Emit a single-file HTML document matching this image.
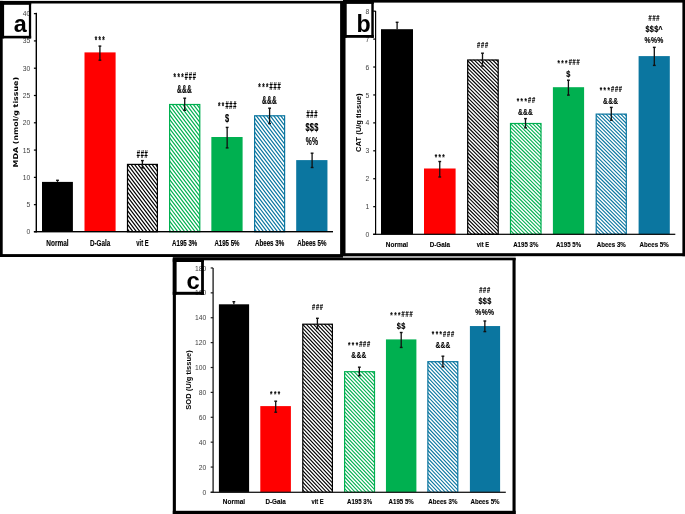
<!DOCTYPE html>
<html lang="en"><head><meta charset="utf-8"><title>Figure: MDA, CAT and SOD levels</title>
<style>html,body{margin:0;padding:0;background:#fff}svg{display:block}text{white-space:pre}</style></head><body>
<svg width="685" height="514" viewBox="0 0 685 514">
<rect x="0.00" y="0.00" width="685.00" height="514.00" fill="#fff"/>
<rect x="42.00" y="181.90" width="30.90" height="49.80" fill="#000"/>
<rect x="84.50" y="52.40" width="31.10" height="179.30" fill="#FF0000"/>
<clipPath id="cp1"><rect x="127.30" y="164.20" width="30.30" height="67.50"/></clipPath>
<rect x="126.90" y="163.80" width="31.10" height="67.90" fill="#fff"/>
<path d="M70.28 162.80L123.24 232.70M73.78 162.80L126.74 232.70M77.28 162.80L130.24 232.70M80.78 162.80L133.74 232.70M84.28 162.80L137.24 232.70M87.78 162.80L140.74 232.70M91.28 162.80L144.24 232.70M94.78 162.80L147.74 232.70M98.28 162.80L151.24 232.70M101.78 162.80L154.74 232.70M105.28 162.80L158.24 232.70M108.78 162.80L161.74 232.70M112.28 162.80L165.24 232.70M115.78 162.80L168.74 232.70M119.28 162.80L172.24 232.70M122.78 162.80L175.74 232.70M126.28 162.80L179.24 232.70M129.78 162.80L182.74 232.70M133.28 162.80L186.24 232.70M136.78 162.80L189.74 232.70M140.28 162.80L193.24 232.70M143.78 162.80L196.74 232.70M147.28 162.80L200.24 232.70M150.78 162.80L203.74 232.70M154.28 162.80L207.24 232.70M157.78 162.80L210.74 232.70" stroke="#000" stroke-width="1.2" fill="none" clip-path="url(#cp1)"/>
<rect x="127.50" y="164.40" width="29.90" height="67.30" fill="none" stroke="#000" stroke-width="1.2"/>
<clipPath id="cp2"><rect x="169.40" y="104.30" width="30.60" height="127.40"/></clipPath>
<rect x="169.00" y="103.90" width="31.40" height="127.80" fill="#fff"/>
<path d="M66.10 102.90L164.44 232.70M69.60 102.90L167.94 232.70M73.10 102.90L171.44 232.70M76.60 102.90L174.94 232.70M80.10 102.90L178.44 232.70M83.60 102.90L181.94 232.70M87.10 102.90L185.44 232.70M90.60 102.90L188.94 232.70M94.10 102.90L192.44 232.70M97.60 102.90L195.94 232.70M101.10 102.90L199.44 232.70M104.60 102.90L202.94 232.70M108.10 102.90L206.44 232.70M111.60 102.90L209.94 232.70M115.10 102.90L213.44 232.70M118.60 102.90L216.94 232.70M122.10 102.90L220.44 232.70M125.60 102.90L223.94 232.70M129.10 102.90L227.44 232.70M132.60 102.90L230.94 232.70M136.10 102.90L234.44 232.70M139.60 102.90L237.94 232.70M143.10 102.90L241.44 232.70M146.60 102.90L244.94 232.70M150.10 102.90L248.44 232.70M153.60 102.90L251.94 232.70M157.10 102.90L255.44 232.70M160.60 102.90L258.94 232.70M164.10 102.90L262.44 232.70M167.60 102.90L265.94 232.70M171.10 102.90L269.44 232.70M174.60 102.90L272.94 232.70M178.10 102.90L276.44 232.70M181.60 102.90L279.94 232.70M185.10 102.90L283.44 232.70M188.60 102.90L286.94 232.70M192.10 102.90L290.44 232.70M195.60 102.90L293.94 232.70M199.10 102.90L297.44 232.70" stroke="#00B050" stroke-width="1.2" fill="none" clip-path="url(#cp2)"/>
<rect x="169.60" y="104.50" width="30.20" height="127.20" fill="none" stroke="#00B050" stroke-width="1.2"/>
<rect x="211.35" y="137.00" width="31.25" height="94.70" fill="#00B050"/>
<clipPath id="cp3"><rect x="254.40" y="115.60" width="30.40" height="116.10"/></clipPath>
<rect x="254.00" y="115.20" width="31.20" height="116.50" fill="#fff"/>
<path d="M160.53 114.20L250.30 232.70M164.03 114.20L253.80 232.70M167.53 114.20L257.30 232.70M171.03 114.20L260.80 232.70M174.53 114.20L264.30 232.70M178.03 114.20L267.80 232.70M181.53 114.20L271.30 232.70M185.03 114.20L274.80 232.70M188.53 114.20L278.30 232.70M192.03 114.20L281.80 232.70M195.53 114.20L285.30 232.70M199.03 114.20L288.80 232.70M202.53 114.20L292.30 232.70M206.03 114.20L295.80 232.70M209.53 114.20L299.30 232.70M213.03 114.20L302.80 232.70M216.53 114.20L306.30 232.70M220.03 114.20L309.80 232.70M223.53 114.20L313.30 232.70M227.03 114.20L316.80 232.70M230.53 114.20L320.30 232.70M234.03 114.20L323.80 232.70M237.53 114.20L327.30 232.70M241.03 114.20L330.80 232.70M244.53 114.20L334.30 232.70M248.03 114.20L337.80 232.70M251.53 114.20L341.30 232.70M255.03 114.20L344.80 232.70M258.53 114.20L348.30 232.70M262.03 114.20L351.80 232.70M265.53 114.20L355.30 232.70M269.03 114.20L358.80 232.70M272.53 114.20L362.30 232.70M276.03 114.20L365.80 232.70M279.53 114.20L369.30 232.70M283.03 114.20L372.80 232.70M286.53 114.20L376.30 232.70" stroke="#0B76A0" stroke-width="1.2" fill="none" clip-path="url(#cp3)"/>
<rect x="254.60" y="115.80" width="30.00" height="115.90" fill="none" stroke="#0B76A0" stroke-width="1.2"/>
<rect x="296.20" y="160.10" width="31.25" height="71.60" fill="#0B76A0"/>
<rect x="35.60" y="12.80" width="1.40" height="219.60" fill="#000"/>
<rect x="33.90" y="231.00" width="299.10" height="1.40" fill="#000"/>
<rect x="33.90" y="231.10" width="2.40" height="1.20" fill="#000"/>
<text transform="translate(30.20,234.25) scale(0.93,1.08)" font-family='"Liberation Sans", sans-serif' font-size="7.3" fill="#404040" text-anchor="end">0</text>
<rect x="33.90" y="204.06" width="2.40" height="1.20" fill="#000"/>
<text transform="translate(30.20,207.21) scale(0.93,1.08)" font-family='"Liberation Sans", sans-serif' font-size="7.3" fill="#404040" text-anchor="end">5</text>
<rect x="33.90" y="176.77" width="2.40" height="1.20" fill="#000"/>
<text transform="translate(30.20,179.92) scale(0.93,1.08)" font-family='"Liberation Sans", sans-serif' font-size="7.3" fill="#404040" text-anchor="end">10</text>
<rect x="33.90" y="149.48" width="2.40" height="1.20" fill="#000"/>
<text transform="translate(30.20,152.63) scale(0.93,1.08)" font-family='"Liberation Sans", sans-serif' font-size="7.3" fill="#404040" text-anchor="end">15</text>
<rect x="33.90" y="122.19" width="2.40" height="1.20" fill="#000"/>
<text transform="translate(30.20,125.34) scale(0.93,1.08)" font-family='"Liberation Sans", sans-serif' font-size="7.3" fill="#404040" text-anchor="end">20</text>
<rect x="33.90" y="94.90" width="2.40" height="1.20" fill="#000"/>
<text transform="translate(30.20,98.05) scale(0.93,1.08)" font-family='"Liberation Sans", sans-serif' font-size="7.3" fill="#404040" text-anchor="end">25</text>
<rect x="33.90" y="67.61" width="2.40" height="1.20" fill="#000"/>
<text transform="translate(30.20,70.76) scale(0.93,1.08)" font-family='"Liberation Sans", sans-serif' font-size="7.3" fill="#404040" text-anchor="end">30</text>
<rect x="33.90" y="40.32" width="2.40" height="1.20" fill="#000"/>
<text transform="translate(30.20,43.47) scale(0.93,1.08)" font-family='"Liberation Sans", sans-serif' font-size="7.3" fill="#404040" text-anchor="end">35</text>
<rect x="33.90" y="13.03" width="2.40" height="1.20" fill="#000"/>
<text transform="translate(30.20,16.18) scale(0.93,1.08)" font-family='"Liberation Sans", sans-serif' font-size="7.3" fill="#404040" text-anchor="end">40</text>
<rect x="56.85" y="180.30" width="1.30" height="1.60" fill="#111"/>
<rect x="56.10" y="179.60" width="2.80" height="1.40" fill="#111"/>
<text transform="translate(57.45,246.30) scale(0.9807,1.2727)" font-family='"Liberation Sans", sans-serif' font-size="6.6" font-weight="bold" fill="#000" text-anchor="middle" stroke="#000" stroke-width="0.1">Normal</text>
<rect x="99.25" y="46.10" width="1.30" height="14.10" fill="#111"/>
<rect x="98.50" y="45.40" width="2.80" height="1.40" fill="#111"/>
<rect x="98.50" y="59.50" width="2.80" height="1.40" fill="#111"/>
<text transform="translate(99.70,43.10) scale(0.7550,1.3333)" font-family='"Liberation Sans", sans-serif' font-weight="bold" fill="#000" stroke="#000" stroke-width="0.12"><tspan x="-6.70 -1.60 3.49" y="0.75" font-size="8.25">***</tspan></text>
<text transform="translate(100.05,246.30) scale(0.9590,1.2727)" font-family='"Liberation Sans", sans-serif' font-size="6.6" font-weight="bold" fill="#000" text-anchor="middle" stroke="#000" stroke-width="0.1">D-Gala</text>
<rect x="141.75" y="160.60" width="1.30" height="7.40" fill="#111"/>
<rect x="141.00" y="159.90" width="2.80" height="1.40" fill="#111"/>
<rect x="141.00" y="167.30" width="2.80" height="1.40" fill="#111"/>
<text transform="translate(142.20,158.40) scale(0.7552,1.3333)" font-family='"Liberation Sans", sans-serif' font-weight="bold" fill="#000" stroke="#000" stroke-width="0.12"><tspan x="-7.32 -2.09 3.14" y="0.00" font-size="7.5">###</tspan></text>
<text transform="translate(142.45,246.30) scale(0.8825,1.2727)" font-family='"Liberation Sans", sans-serif' font-size="6.6" font-weight="bold" fill="#000" text-anchor="middle" stroke="#000" stroke-width="0.1">vit E</text>
<rect x="184.05" y="98.20" width="1.30" height="12.10" fill="#111"/>
<rect x="183.30" y="97.50" width="2.80" height="1.40" fill="#111"/>
<rect x="183.30" y="109.60" width="2.80" height="1.40" fill="#111"/>
<text transform="translate(184.55,80.00) scale(0.7552,1.3333)" font-family='"Liberation Sans", sans-serif' font-weight="bold" fill="#000" stroke="#000" stroke-width="0.12"><tspan x="-14.55 -9.45 -4.35" y="0.75" font-size="8.25">***</tspan><tspan x="0.33 5.56 10.79" y="0.00" font-size="7.5">###</tspan></text>
<text transform="translate(184.45,93.40) scale(0.8770,1.3333)" font-family='"Liberation Sans", sans-serif' font-weight="bold" fill="#000" stroke="#000" stroke-width="0.12"><tspan x="-8.47 -2.71 3.05" y="0.00" font-size="7.5">&amp;&amp;&amp;</tspan></text>
<text transform="translate(184.70,246.30) scale(0.9281,1.2727)" font-family='"Liberation Sans", sans-serif' font-size="6.6" font-weight="bold" fill="#000" text-anchor="middle" stroke="#000" stroke-width="0.1">A195 3%</text>
<rect x="226.50" y="127.40" width="1.30" height="20.50" fill="#111"/>
<rect x="225.75" y="126.70" width="2.80" height="1.40" fill="#111"/>
<rect x="225.75" y="147.20" width="2.80" height="1.40" fill="#111"/>
<text transform="translate(227.05,109.20) scale(0.7552,1.3333)" font-family='"Liberation Sans", sans-serif' font-weight="bold" fill="#000" stroke="#000" stroke-width="0.12"><tspan x="-12.00 -6.90" y="0.75" font-size="8.25">**</tspan><tspan x="-2.22 3.01 8.24" y="0.00" font-size="7.5">###</tspan></text>
<text transform="translate(227.10,122.20) scale(0.9829,1.3333)" font-family='"Liberation Sans", sans-serif' font-weight="bold" fill="#000" stroke="#000" stroke-width="0.12"><tspan x="-2.09" y="0.00" font-size="7.5">$</tspan></text>
<text transform="translate(226.97,246.30) scale(0.9281,1.2727)" font-family='"Liberation Sans", sans-serif' font-size="6.6" font-weight="bold" fill="#000" text-anchor="middle" stroke="#000" stroke-width="0.1">A195 5%</text>
<rect x="268.95" y="108.20" width="1.30" height="15.40" fill="#111"/>
<rect x="268.20" y="107.50" width="2.80" height="1.40" fill="#111"/>
<rect x="268.20" y="122.90" width="2.80" height="1.40" fill="#111"/>
<text transform="translate(269.30,90.10) scale(0.7552,1.3333)" font-family='"Liberation Sans", sans-serif' font-weight="bold" fill="#000" stroke="#000" stroke-width="0.12"><tspan x="-14.55 -9.45 -4.35" y="0.75" font-size="8.25">***</tspan><tspan x="0.33 5.56 10.79" y="0.00" font-size="7.5">###</tspan></text>
<text transform="translate(269.30,103.60) scale(0.8770,1.3333)" font-family='"Liberation Sans", sans-serif' font-weight="bold" fill="#000" stroke="#000" stroke-width="0.12"><tspan x="-8.47 -2.71 3.05" y="0.00" font-size="7.5">&amp;&amp;&amp;</tspan></text>
<text transform="translate(269.60,246.30) scale(0.9364,1.2727)" font-family='"Liberation Sans", sans-serif' font-size="6.6" font-weight="bold" fill="#000" text-anchor="middle" stroke="#000" stroke-width="0.1">Abees 3%</text>
<rect x="311.45" y="153.20" width="1.30" height="14.30" fill="#111"/>
<rect x="310.70" y="152.50" width="2.80" height="1.40" fill="#111"/>
<rect x="310.70" y="166.80" width="2.80" height="1.40" fill="#111"/>
<text transform="translate(311.90,118.40) scale(0.7552,1.3333)" font-family='"Liberation Sans", sans-serif' font-weight="bold" fill="#000" stroke="#000" stroke-width="0.12"><tspan x="-7.32 -2.09 3.14" y="0.00" font-size="7.5">###</tspan></text>
<text transform="translate(311.90,131.40) scale(0.9829,1.3333)" font-family='"Liberation Sans", sans-serif' font-weight="bold" fill="#000" stroke="#000" stroke-width="0.12"><tspan x="-6.56 -2.09 2.39" y="0.00" font-size="7.5">$$$</tspan></text>
<text transform="translate(311.90,144.90) scale(0.9072,1.3333)" font-family='"Liberation Sans", sans-serif' font-weight="bold" fill="#000" stroke="#000" stroke-width="0.12"><tspan x="-6.83 0.17" y="0.00" font-size="7.5">%%</tspan></text>
<text transform="translate(311.82,246.30) scale(0.9364,1.2727)" font-family='"Liberation Sans", sans-serif' font-size="6.6" font-weight="bold" fill="#000" text-anchor="middle" stroke="#000" stroke-width="0.1">Abees 5%</text>
<text transform="translate(18.00,122.20) rotate(-90)" font-family='"DejaVu Sans", "Liberation Sans", sans-serif' font-size="6.7" font-weight="bold" fill="#000" text-anchor="middle" textLength="90.50" lengthAdjust="spacingAndGlyphs">MDA (nmol/g tissue)</text>
<rect x="381.00" y="29.20" width="32.00" height="205.10" fill="#000"/>
<rect x="424.00" y="168.50" width="31.60" height="65.80" fill="#FF0000"/>
<clipPath id="cp4"><rect x="467.50" y="59.80" width="30.90" height="174.50"/></clipPath>
<rect x="467.10" y="59.40" width="31.70" height="174.90" fill="#fff"/>
<path d="M284.92 58.40L461.82 235.30M288.60 58.40L465.50 235.30M292.28 58.40L469.18 235.30M295.96 58.40L472.86 235.30M299.64 58.40L476.54 235.30M303.32 58.40L480.22 235.30M307.00 58.40L483.90 235.30M310.68 58.40L487.58 235.30M314.36 58.40L491.26 235.30M318.04 58.40L494.94 235.30M321.72 58.40L498.62 235.30M325.40 58.40L502.30 235.30M329.08 58.40L505.98 235.30M332.76 58.40L509.66 235.30M336.44 58.40L513.34 235.30M340.12 58.40L517.02 235.30M343.80 58.40L520.70 235.30M347.48 58.40L524.38 235.30M351.16 58.40L528.06 235.30M354.84 58.40L531.74 235.30M358.52 58.40L535.42 235.30M362.20 58.40L539.10 235.30M365.88 58.40L542.78 235.30M369.56 58.40L546.46 235.30M373.24 58.40L550.14 235.30M376.92 58.40L553.82 235.30M380.60 58.40L557.50 235.30M384.28 58.40L561.18 235.30M387.96 58.40L564.86 235.30M391.64 58.40L568.54 235.30M395.32 58.40L572.22 235.30M399.00 58.40L575.90 235.30M402.68 58.40L579.58 235.30M406.36 58.40L583.26 235.30M410.04 58.40L586.94 235.30M413.72 58.40L590.62 235.30M417.40 58.40L594.30 235.30M421.08 58.40L597.98 235.30M424.76 58.40L601.66 235.30M428.44 58.40L605.34 235.30M432.12 58.40L609.02 235.30M435.80 58.40L612.70 235.30M439.48 58.40L616.38 235.30M443.16 58.40L620.06 235.30M446.84 58.40L623.74 235.30M450.52 58.40L627.42 235.30M454.20 58.40L631.10 235.30M457.88 58.40L634.78 235.30M461.56 58.40L638.46 235.30M465.24 58.40L642.14 235.30M468.92 58.40L645.82 235.30M472.60 58.40L649.50 235.30M476.28 58.40L653.18 235.30M479.96 58.40L656.86 235.30M483.64 58.40L660.54 235.30M487.32 58.40L664.22 235.30M491.00 58.40L667.90 235.30M494.68 58.40L671.58 235.30M498.36 58.40L675.26 235.30" stroke="#000" stroke-width="1.12" fill="none" clip-path="url(#cp4)"/>
<rect x="467.70" y="60.00" width="30.50" height="174.30" fill="none" stroke="#000" stroke-width="1.2"/>
<clipPath id="cp5"><rect x="510.30" y="123.30" width="30.90" height="111.00"/></clipPath>
<rect x="509.90" y="122.90" width="31.70" height="111.40" fill="#fff"/>
<path d="M391.00 121.90L504.40 235.30M394.68 121.90L508.08 235.30M398.36 121.90L511.76 235.30M402.04 121.90L515.44 235.30M405.72 121.90L519.12 235.30M409.40 121.90L522.80 235.30M413.08 121.90L526.48 235.30M416.76 121.90L530.16 235.30M420.44 121.90L533.84 235.30M424.12 121.90L537.52 235.30M427.80 121.90L541.20 235.30M431.48 121.90L544.88 235.30M435.16 121.90L548.56 235.30M438.84 121.90L552.24 235.30M442.52 121.90L555.92 235.30M446.20 121.90L559.60 235.30M449.88 121.90L563.28 235.30M453.56 121.90L566.96 235.30M457.24 121.90L570.64 235.30M460.92 121.90L574.32 235.30M464.60 121.90L578.00 235.30M468.28 121.90L581.68 235.30M471.96 121.90L585.36 235.30M475.64 121.90L589.04 235.30M479.32 121.90L592.72 235.30M483.00 121.90L596.40 235.30M486.68 121.90L600.08 235.30M490.36 121.90L603.76 235.30M494.04 121.90L607.44 235.30M497.72 121.90L611.12 235.30M501.40 121.90L614.80 235.30M505.08 121.90L618.48 235.30M508.76 121.90L622.16 235.30M512.44 121.90L625.84 235.30M516.12 121.90L629.52 235.30M519.80 121.90L633.20 235.30M523.48 121.90L636.88 235.30M527.16 121.90L640.56 235.30M530.84 121.90L644.24 235.30M534.52 121.90L647.92 235.30M538.20 121.90L651.60 235.30M541.88 121.90L655.28 235.30" stroke="#00B050" stroke-width="1.12" fill="none" clip-path="url(#cp5)"/>
<rect x="510.50" y="123.50" width="30.50" height="110.80" fill="none" stroke="#00B050" stroke-width="1.2"/>
<rect x="552.90" y="87.20" width="31.20" height="147.10" fill="#00B050"/>
<clipPath id="cp6"><rect x="596.00" y="113.90" width="30.50" height="120.40"/></clipPath>
<rect x="595.60" y="113.50" width="31.30" height="120.80" fill="#fff"/>
<path d="M468.17 112.50L590.97 235.30M471.85 112.50L594.65 235.30M475.53 112.50L598.33 235.30M479.21 112.50L602.01 235.30M482.89 112.50L605.69 235.30M486.57 112.50L609.37 235.30M490.25 112.50L613.05 235.30M493.93 112.50L616.73 235.30M497.61 112.50L620.41 235.30M501.29 112.50L624.09 235.30M504.97 112.50L627.77 235.30M508.65 112.50L631.45 235.30M512.33 112.50L635.13 235.30M516.01 112.50L638.81 235.30M519.69 112.50L642.49 235.30M523.37 112.50L646.17 235.30M527.05 112.50L649.85 235.30M530.73 112.50L653.53 235.30M534.41 112.50L657.21 235.30M538.09 112.50L660.89 235.30M541.77 112.50L664.57 235.30M545.45 112.50L668.25 235.30M549.13 112.50L671.93 235.30M552.81 112.50L675.61 235.30M556.49 112.50L679.29 235.30M560.17 112.50L682.97 235.30M563.85 112.50L686.65 235.30M567.53 112.50L690.33 235.30M571.21 112.50L694.01 235.30M574.89 112.50L697.69 235.30M578.57 112.50L701.37 235.30M582.25 112.50L705.05 235.30M585.93 112.50L708.73 235.30M589.61 112.50L712.41 235.30M593.29 112.50L716.09 235.30M596.97 112.50L719.77 235.30M600.65 112.50L723.45 235.30M604.33 112.50L727.13 235.30M608.01 112.50L730.81 235.30M611.69 112.50L734.49 235.30M615.37 112.50L738.17 235.30M619.05 112.50L741.85 235.30M622.73 112.50L745.53 235.30M626.41 112.50L749.21 235.30" stroke="#0B76A0" stroke-width="1.12" fill="none" clip-path="url(#cp6)"/>
<rect x="596.20" y="114.10" width="30.10" height="120.20" fill="none" stroke="#0B76A0" stroke-width="1.2"/>
<rect x="638.60" y="56.10" width="31.20" height="178.20" fill="#0B76A0"/>
<rect x="375.00" y="10.90" width="1.20" height="224.00" fill="#000"/>
<rect x="373.20" y="233.70" width="302.10" height="1.20" fill="#000"/>
<rect x="373.20" y="233.70" width="2.40" height="1.20" fill="#000"/>
<text transform="translate(369.30,236.85) scale(0.93,1.05)" font-family='"Liberation Sans", sans-serif' font-size="7.3" fill="#404040" text-anchor="end">0</text>
<rect x="373.20" y="206.07" width="2.40" height="1.20" fill="#000"/>
<text transform="translate(369.30,209.22) scale(0.93,1.05)" font-family='"Liberation Sans", sans-serif' font-size="7.3" fill="#404040" text-anchor="end">1</text>
<rect x="373.20" y="178.14" width="2.40" height="1.20" fill="#000"/>
<text transform="translate(369.30,181.29) scale(0.93,1.05)" font-family='"Liberation Sans", sans-serif' font-size="7.3" fill="#404040" text-anchor="end">2</text>
<rect x="373.20" y="150.21" width="2.40" height="1.20" fill="#000"/>
<text transform="translate(369.30,153.36) scale(0.93,1.05)" font-family='"Liberation Sans", sans-serif' font-size="7.3" fill="#404040" text-anchor="end">3</text>
<rect x="373.20" y="122.28" width="2.40" height="1.20" fill="#000"/>
<text transform="translate(369.30,125.43) scale(0.93,1.05)" font-family='"Liberation Sans", sans-serif' font-size="7.3" fill="#404040" text-anchor="end">4</text>
<rect x="373.20" y="94.35" width="2.40" height="1.20" fill="#000"/>
<text transform="translate(369.30,97.50) scale(0.93,1.05)" font-family='"Liberation Sans", sans-serif' font-size="7.3" fill="#404040" text-anchor="end">5</text>
<rect x="373.20" y="66.42" width="2.40" height="1.20" fill="#000"/>
<text transform="translate(369.30,69.57) scale(0.93,1.05)" font-family='"Liberation Sans", sans-serif' font-size="7.3" fill="#404040" text-anchor="end">6</text>
<rect x="373.20" y="38.49" width="2.40" height="1.20" fill="#000"/>
<text transform="translate(369.30,41.64) scale(0.93,1.05)" font-family='"Liberation Sans", sans-serif' font-size="7.3" fill="#404040" text-anchor="end">7</text>
<rect x="373.20" y="10.56" width="2.40" height="1.20" fill="#000"/>
<text transform="translate(369.30,13.71) scale(0.93,1.05)" font-family='"Liberation Sans", sans-serif' font-size="7.3" fill="#404040" text-anchor="end">8</text>
<rect x="396.45" y="22.30" width="1.30" height="6.90" fill="#111"/>
<rect x="395.70" y="21.60" width="2.80" height="1.40" fill="#111"/>
<text transform="translate(397.00,246.90) scale(0.9807,1.1667)" font-family='"Liberation Sans", sans-serif' font-size="6.6" font-weight="bold" fill="#000" text-anchor="middle" stroke="#000" stroke-width="0.1">Normal</text>
<rect x="439.10" y="161.50" width="1.30" height="15.50" fill="#111"/>
<rect x="438.35" y="160.80" width="2.80" height="1.40" fill="#111"/>
<rect x="438.35" y="176.30" width="2.80" height="1.40" fill="#111"/>
<text transform="translate(439.70,159.20) scale(0.7550,1.1333)" font-family='"Liberation Sans", sans-serif' font-weight="bold" fill="#000" stroke="#000" stroke-width="0.12"><tspan x="-6.70 -1.60 3.49" y="0.75" font-size="8.25">***</tspan></text>
<text transform="translate(439.80,246.90) scale(0.9590,1.1667)" font-family='"Liberation Sans", sans-serif' font-size="6.6" font-weight="bold" fill="#000" text-anchor="middle" stroke="#000" stroke-width="0.1">D-Gala</text>
<rect x="481.85" y="53.20" width="1.30" height="12.80" fill="#111"/>
<rect x="481.10" y="52.50" width="2.80" height="1.40" fill="#111"/>
<rect x="481.10" y="65.30" width="2.80" height="1.40" fill="#111"/>
<text transform="translate(482.60,47.90) scale(0.7552,1.1333)" font-family='"Liberation Sans", sans-serif' font-weight="bold" fill="#000" stroke="#000" stroke-width="0.12"><tspan x="-7.32 -2.09 3.14" y="0.00" font-size="7.5">###</tspan></text>
<text transform="translate(482.95,246.90) scale(0.8825,1.1667)" font-family='"Liberation Sans", sans-serif' font-size="6.6" font-weight="bold" fill="#000" text-anchor="middle" stroke="#000" stroke-width="0.1">vit E</text>
<rect x="524.85" y="118.60" width="1.30" height="9.20" fill="#111"/>
<rect x="524.10" y="117.90" width="2.80" height="1.40" fill="#111"/>
<rect x="524.10" y="127.10" width="2.80" height="1.40" fill="#111"/>
<text transform="translate(525.70,103.10) scale(0.7552,1.1333)" font-family='"Liberation Sans", sans-serif' font-weight="bold" fill="#000" stroke="#000" stroke-width="0.12"><tspan x="-11.93 -6.84 -1.74" y="0.75" font-size="8.25">***</tspan><tspan x="2.95 8.18" y="0.00" font-size="7.5">##</tspan></text>
<text transform="translate(525.40,114.90) scale(0.8770,1.1333)" font-family='"Liberation Sans", sans-serif' font-weight="bold" fill="#000" stroke="#000" stroke-width="0.12"><tspan x="-8.47 -2.71 3.05" y="0.00" font-size="7.5">&amp;&amp;&amp;</tspan></text>
<text transform="translate(525.75,246.90) scale(0.9281,1.1667)" font-family='"Liberation Sans", sans-serif' font-size="6.6" font-weight="bold" fill="#000" text-anchor="middle" stroke="#000" stroke-width="0.1">A195 3%</text>
<rect x="567.75" y="80.20" width="1.30" height="14.90" fill="#111"/>
<rect x="567.00" y="79.50" width="2.80" height="1.40" fill="#111"/>
<rect x="567.00" y="94.40" width="2.80" height="1.40" fill="#111"/>
<text transform="translate(568.40,65.10) scale(0.7552,1.1333)" font-family='"Liberation Sans", sans-serif' font-weight="bold" fill="#000" stroke="#000" stroke-width="0.12"><tspan x="-14.55 -9.45 -4.35" y="0.75" font-size="8.25">***</tspan><tspan x="0.33 5.56 10.79" y="0.00" font-size="7.5">###</tspan></text>
<text transform="translate(568.40,76.60) scale(0.9829,1.1333)" font-family='"Liberation Sans", sans-serif' font-weight="bold" fill="#000" stroke="#000" stroke-width="0.12"><tspan x="-2.09" y="0.00" font-size="7.5">$</tspan></text>
<text transform="translate(568.50,246.90) scale(0.9281,1.1667)" font-family='"Liberation Sans", sans-serif' font-size="6.6" font-weight="bold" fill="#000" text-anchor="middle" stroke="#000" stroke-width="0.1">A195 5%</text>
<rect x="610.65" y="107.40" width="1.30" height="12.80" fill="#111"/>
<rect x="609.90" y="106.70" width="2.80" height="1.40" fill="#111"/>
<rect x="609.90" y="119.50" width="2.80" height="1.40" fill="#111"/>
<text transform="translate(610.70,92.00) scale(0.7552,1.1333)" font-family='"Liberation Sans", sans-serif' font-weight="bold" fill="#000" stroke="#000" stroke-width="0.12"><tspan x="-14.55 -9.45 -4.35" y="0.75" font-size="8.25">***</tspan><tspan x="0.33 5.56 10.79" y="0.00" font-size="7.5">###</tspan></text>
<text transform="translate(610.50,103.70) scale(0.8770,1.1333)" font-family='"Liberation Sans", sans-serif' font-weight="bold" fill="#000" stroke="#000" stroke-width="0.12"><tspan x="-8.47 -2.71 3.05" y="0.00" font-size="7.5">&amp;&amp;&amp;</tspan></text>
<text transform="translate(611.25,246.90) scale(0.9364,1.1667)" font-family='"Liberation Sans", sans-serif' font-size="6.6" font-weight="bold" fill="#000" text-anchor="middle" stroke="#000" stroke-width="0.1">Abees 3%</text>
<rect x="653.65" y="47.35" width="1.30" height="18.05" fill="#111"/>
<rect x="652.90" y="46.65" width="2.80" height="1.40" fill="#111"/>
<rect x="652.90" y="64.70" width="2.80" height="1.40" fill="#111"/>
<text transform="translate(654.00,21.00) scale(0.7552,1.1333)" font-family='"Liberation Sans", sans-serif' font-weight="bold" fill="#000" stroke="#000" stroke-width="0.12"><tspan x="-7.32 -2.09 3.14" y="0.00" font-size="7.5">###</tspan></text>
<text transform="translate(653.80,32.20) scale(0.9829,1.1333)" font-family='"Liberation Sans", sans-serif' font-weight="bold" fill="#000" stroke="#000" stroke-width="0.12"><tspan x="-8.55 -4.07 0.41" y="0.00" font-size="7.5">$$$</tspan><tspan x="4.52" y="0.00" font-size="7.5">^</tspan></text>
<text transform="translate(653.90,43.30) scale(0.9072,1.1333)" font-family='"Liberation Sans", sans-serif' font-weight="bold" fill="#000" stroke="#000" stroke-width="0.12"><tspan x="-10.33 -3.33 3.67" y="0.00" font-size="7.5">%%%</tspan></text>
<text transform="translate(654.20,246.90) scale(0.9364,1.1667)" font-family='"Liberation Sans", sans-serif' font-size="6.6" font-weight="bold" fill="#000" text-anchor="middle" stroke="#000" stroke-width="0.1">Abees 5%</text>
<text transform="translate(361.00,122.70) rotate(-90)" font-family='"Liberation Sans", sans-serif' font-size="7.1" font-weight="bold" fill="#000" text-anchor="middle" textLength="58.50" lengthAdjust="spacingAndGlyphs">CAT (U/g tissue)</text>
<rect x="218.90" y="304.30" width="30.20" height="188.00" fill="#000"/>
<rect x="260.30" y="406.10" width="30.60" height="86.20" fill="#FF0000"/>
<clipPath id="cp7"><rect x="302.60" y="324.00" width="30.00" height="168.30"/></clipPath>
<rect x="302.20" y="323.60" width="30.80" height="168.70" fill="#fff"/>
<path d="M137.68 322.60L298.72 493.30M141.31 322.60L302.35 493.30M144.94 322.60L305.98 493.30M148.57 322.60L309.61 493.30M152.20 322.60L313.24 493.30M155.83 322.60L316.87 493.30M159.46 322.60L320.50 493.30M163.09 322.60L324.13 493.30M166.72 322.60L327.76 493.30M170.35 322.60L331.39 493.30M173.98 322.60L335.02 493.30M177.61 322.60L338.65 493.30M181.24 322.60L342.28 493.30M184.87 322.60L345.91 493.30M188.50 322.60L349.54 493.30M192.13 322.60L353.17 493.30M195.76 322.60L356.80 493.30M199.39 322.60L360.43 493.30M203.02 322.60L364.06 493.30M206.65 322.60L367.69 493.30M210.28 322.60L371.32 493.30M213.91 322.60L374.95 493.30M217.54 322.60L378.58 493.30M221.17 322.60L382.21 493.30M224.80 322.60L385.84 493.30M228.43 322.60L389.47 493.30M232.06 322.60L393.10 493.30M235.69 322.60L396.73 493.30M239.32 322.60L400.36 493.30M242.95 322.60L403.99 493.30M246.58 322.60L407.62 493.30M250.21 322.60L411.25 493.30M253.84 322.60L414.88 493.30M257.47 322.60L418.51 493.30M261.10 322.60L422.14 493.30M264.73 322.60L425.77 493.30M268.36 322.60L429.40 493.30M271.99 322.60L433.03 493.30M275.62 322.60L436.66 493.30M279.25 322.60L440.29 493.30M282.88 322.60L443.92 493.30M286.51 322.60L447.55 493.30M290.14 322.60L451.18 493.30M293.77 322.60L454.81 493.30M297.40 322.60L458.44 493.30M301.03 322.60L462.07 493.30M304.66 322.60L465.70 493.30M308.29 322.60L469.33 493.30M311.92 322.60L472.96 493.30M315.55 322.60L476.59 493.30M319.18 322.60L480.22 493.30M322.81 322.60L483.85 493.30M326.44 322.60L487.48 493.30M330.07 322.60L491.11 493.30M333.70 322.60L494.74 493.30" stroke="#000" stroke-width="1.12" fill="none" clip-path="url(#cp7)"/>
<rect x="302.80" y="324.20" width="29.60" height="168.10" fill="none" stroke="#000" stroke-width="1.2"/>
<clipPath id="cp8"><rect x="344.40" y="371.50" width="30.30" height="120.80"/></clipPath>
<rect x="344.00" y="371.10" width="31.10" height="121.20" fill="#fff"/>
<path d="M225.55 370.10L341.78 493.30M229.18 370.10L345.41 493.30M232.81 370.10L349.04 493.30M236.44 370.10L352.67 493.30M240.07 370.10L356.30 493.30M243.70 370.10L359.93 493.30M247.33 370.10L363.56 493.30M250.96 370.10L367.19 493.30M254.59 370.10L370.82 493.30M258.22 370.10L374.45 493.30M261.85 370.10L378.08 493.30M265.48 370.10L381.71 493.30M269.11 370.10L385.34 493.30M272.74 370.10L388.97 493.30M276.37 370.10L392.60 493.30M280.00 370.10L396.23 493.30M283.63 370.10L399.86 493.30M287.26 370.10L403.49 493.30M290.89 370.10L407.12 493.30M294.52 370.10L410.75 493.30M298.15 370.10L414.38 493.30M301.78 370.10L418.01 493.30M305.41 370.10L421.64 493.30M309.04 370.10L425.27 493.30M312.67 370.10L428.90 493.30M316.30 370.10L432.53 493.30M319.93 370.10L436.16 493.30M323.56 370.10L439.79 493.30M327.19 370.10L443.42 493.30M330.82 370.10L447.05 493.30M334.45 370.10L450.68 493.30M338.08 370.10L454.31 493.30M341.71 370.10L457.94 493.30M345.34 370.10L461.57 493.30M348.97 370.10L465.20 493.30M352.60 370.10L468.83 493.30M356.23 370.10L472.46 493.30M359.86 370.10L476.09 493.30M363.49 370.10L479.72 493.30M367.12 370.10L483.35 493.30M370.75 370.10L486.98 493.30M374.38 370.10L490.61 493.30" stroke="#00B050" stroke-width="1.12" fill="none" clip-path="url(#cp8)"/>
<rect x="344.60" y="371.70" width="29.90" height="120.60" fill="none" stroke="#00B050" stroke-width="1.2"/>
<rect x="385.95" y="339.40" width="30.45" height="152.90" fill="#00B050"/>
<clipPath id="cp9"><rect x="427.70" y="361.50" width="30.30" height="130.80"/></clipPath>
<rect x="427.30" y="361.10" width="31.10" height="131.20" fill="#fff"/>
<path d="M298.95 360.10L424.61 493.30M302.58 360.10L428.24 493.30M306.21 360.10L431.87 493.30M309.84 360.10L435.50 493.30M313.47 360.10L439.13 493.30M317.10 360.10L442.76 493.30M320.73 360.10L446.39 493.30M324.36 360.10L450.02 493.30M327.99 360.10L453.65 493.30M331.62 360.10L457.28 493.30M335.25 360.10L460.91 493.30M338.88 360.10L464.54 493.30M342.51 360.10L468.17 493.30M346.14 360.10L471.80 493.30M349.77 360.10L475.43 493.30M353.40 360.10L479.06 493.30M357.03 360.10L482.69 493.30M360.66 360.10L486.32 493.30M364.29 360.10L489.95 493.30M367.92 360.10L493.58 493.30M371.55 360.10L497.21 493.30M375.18 360.10L500.84 493.30M378.81 360.10L504.47 493.30M382.44 360.10L508.10 493.30M386.07 360.10L511.73 493.30M389.70 360.10L515.36 493.30M393.33 360.10L518.99 493.30M396.96 360.10L522.62 493.30M400.59 360.10L526.25 493.30M404.22 360.10L529.88 493.30M407.85 360.10L533.51 493.30M411.48 360.10L537.14 493.30M415.11 360.10L540.77 493.30M418.74 360.10L544.40 493.30M422.37 360.10L548.03 493.30M426.00 360.10L551.66 493.30M429.63 360.10L555.29 493.30M433.26 360.10L558.92 493.30M436.89 360.10L562.55 493.30M440.52 360.10L566.18 493.30M444.15 360.10L569.81 493.30M447.78 360.10L573.44 493.30M451.41 360.10L577.07 493.30M455.04 360.10L580.70 493.30M458.67 360.10L584.33 493.30" stroke="#0B76A0" stroke-width="1.12" fill="none" clip-path="url(#cp9)"/>
<rect x="427.90" y="361.70" width="29.90" height="130.60" fill="none" stroke="#0B76A0" stroke-width="1.2"/>
<rect x="469.90" y="326.05" width="30.20" height="166.25" fill="#0B76A0"/>
<rect x="212.45" y="268.00" width="1.30" height="224.95" fill="#1a1a1a"/>
<rect x="210.70" y="491.65" width="295.10" height="1.30" fill="#1a1a1a"/>
<rect x="210.70" y="491.70" width="2.40" height="1.20" fill="#1a1a1a"/>
<text transform="translate(206.30,494.85) scale(0.93,1.0)" font-family='"Liberation Sans", sans-serif' font-size="7.3" fill="#404040" text-anchor="end">0</text>
<rect x="210.70" y="466.46" width="2.40" height="1.20" fill="#1a1a1a"/>
<text transform="translate(206.30,469.61) scale(0.93,1.0)" font-family='"Liberation Sans", sans-serif' font-size="7.3" fill="#404040" text-anchor="end">20</text>
<rect x="210.70" y="441.57" width="2.40" height="1.20" fill="#1a1a1a"/>
<text transform="translate(206.30,444.72) scale(0.93,1.0)" font-family='"Liberation Sans", sans-serif' font-size="7.3" fill="#404040" text-anchor="end">40</text>
<rect x="210.70" y="416.69" width="2.40" height="1.20" fill="#1a1a1a"/>
<text transform="translate(206.30,419.84) scale(0.93,1.0)" font-family='"Liberation Sans", sans-serif' font-size="7.3" fill="#404040" text-anchor="end">60</text>
<rect x="210.70" y="391.80" width="2.40" height="1.20" fill="#1a1a1a"/>
<text transform="translate(206.30,394.95) scale(0.93,1.0)" font-family='"Liberation Sans", sans-serif' font-size="7.3" fill="#404040" text-anchor="end">80</text>
<rect x="210.70" y="366.91" width="2.40" height="1.20" fill="#1a1a1a"/>
<text transform="translate(206.30,370.06) scale(0.93,1.0)" font-family='"Liberation Sans", sans-serif' font-size="7.3" fill="#404040" text-anchor="end">100</text>
<rect x="210.70" y="342.02" width="2.40" height="1.20" fill="#1a1a1a"/>
<text transform="translate(206.30,345.17) scale(0.93,1.0)" font-family='"Liberation Sans", sans-serif' font-size="7.3" fill="#404040" text-anchor="end">120</text>
<rect x="210.70" y="317.13" width="2.40" height="1.20" fill="#1a1a1a"/>
<text transform="translate(206.30,320.28) scale(0.93,1.0)" font-family='"Liberation Sans", sans-serif' font-size="7.3" fill="#404040" text-anchor="end">140</text>
<rect x="210.70" y="292.25" width="2.40" height="1.20" fill="#1a1a1a"/>
<text transform="translate(206.30,295.40) scale(0.93,1.0)" font-family='"Liberation Sans", sans-serif' font-size="7.3" fill="#404040" text-anchor="end">160</text>
<rect x="210.70" y="267.36" width="2.40" height="1.20" fill="#1a1a1a"/>
<text transform="translate(206.30,270.51) scale(0.93,1.0)" font-family='"Liberation Sans", sans-serif' font-size="7.3" fill="#404040" text-anchor="end">180</text>
<rect x="233.20" y="301.70" width="1.30" height="2.60" fill="#111"/>
<rect x="232.45" y="301.00" width="2.80" height="1.40" fill="#111"/>
<text transform="translate(234.00,504.20) scale(0.9807,1.1364)" font-family='"Liberation Sans", sans-serif' font-size="6.6" font-weight="bold" fill="#000" text-anchor="middle" stroke="#000" stroke-width="0.1">Normal</text>
<rect x="275.05" y="401.20" width="1.30" height="11.00" fill="#111"/>
<rect x="274.30" y="400.50" width="2.80" height="1.40" fill="#111"/>
<rect x="274.30" y="411.50" width="2.80" height="1.40" fill="#111"/>
<text transform="translate(275.10,396.10) scale(0.7550,1.1200)" font-family='"Liberation Sans", sans-serif' font-weight="bold" fill="#000" stroke="#000" stroke-width="0.12"><tspan x="-6.70 -1.60 3.49" y="0.75" font-size="8.25">***</tspan></text>
<text transform="translate(275.60,504.20) scale(0.9590,1.1364)" font-family='"Liberation Sans", sans-serif' font-size="6.6" font-weight="bold" fill="#000" text-anchor="middle" stroke="#000" stroke-width="0.1">D-Gala</text>
<rect x="316.75" y="318.30" width="1.30" height="10.20" fill="#111"/>
<rect x="316.00" y="317.60" width="2.80" height="1.40" fill="#111"/>
<rect x="316.00" y="327.80" width="2.80" height="1.40" fill="#111"/>
<text transform="translate(317.45,309.80) scale(0.7552,1.1200)" font-family='"Liberation Sans", sans-serif' font-weight="bold" fill="#000" stroke="#000" stroke-width="0.12"><tspan x="-7.32 -2.09 3.14" y="0.00" font-size="7.5">###</tspan></text>
<text transform="translate(317.60,504.20) scale(0.8825,1.1364)" font-family='"Liberation Sans", sans-serif' font-size="6.6" font-weight="bold" fill="#000" text-anchor="middle" stroke="#000" stroke-width="0.1">vit E</text>
<rect x="358.70" y="367.20" width="1.30" height="8.60" fill="#111"/>
<rect x="357.95" y="366.50" width="2.80" height="1.40" fill="#111"/>
<rect x="357.95" y="375.10" width="2.80" height="1.40" fill="#111"/>
<text transform="translate(358.90,346.85) scale(0.7552,1.1200)" font-family='"Liberation Sans", sans-serif' font-weight="bold" fill="#000" stroke="#000" stroke-width="0.12"><tspan x="-14.55 -9.45 -4.35" y="0.75" font-size="8.25">***</tspan><tspan x="0.33 5.56 10.79" y="0.00" font-size="7.5">###</tspan></text>
<text transform="translate(358.75,358.20) scale(0.8770,1.1200)" font-family='"Liberation Sans", sans-serif' font-weight="bold" fill="#000" stroke="#000" stroke-width="0.12"><tspan x="-8.47 -2.71 3.05" y="0.00" font-size="7.5">&amp;&amp;&amp;</tspan></text>
<text transform="translate(359.55,504.20) scale(0.9281,1.1364)" font-family='"Liberation Sans", sans-serif' font-size="6.6" font-weight="bold" fill="#000" text-anchor="middle" stroke="#000" stroke-width="0.1">A195 3%</text>
<rect x="400.55" y="332.50" width="1.30" height="14.95" fill="#111"/>
<rect x="399.80" y="331.80" width="2.80" height="1.40" fill="#111"/>
<rect x="399.80" y="346.75" width="2.80" height="1.40" fill="#111"/>
<text transform="translate(401.35,317.30) scale(0.7552,1.1200)" font-family='"Liberation Sans", sans-serif' font-weight="bold" fill="#000" stroke="#000" stroke-width="0.12"><tspan x="-14.55 -9.45 -4.35" y="0.75" font-size="8.25">***</tspan><tspan x="0.33 5.56 10.79" y="0.00" font-size="7.5">###</tspan></text>
<text transform="translate(401.00,328.60) scale(0.9829,1.1200)" font-family='"Liberation Sans", sans-serif' font-weight="bold" fill="#000" stroke="#000" stroke-width="0.12"><tspan x="-4.32 0.15" y="0.00" font-size="7.5">$$</tspan></text>
<text transform="translate(401.17,504.20) scale(0.9281,1.1364)" font-family='"Liberation Sans", sans-serif' font-size="6.6" font-weight="bold" fill="#000" text-anchor="middle" stroke="#000" stroke-width="0.1">A195 5%</text>
<rect x="442.25" y="356.20" width="1.30" height="10.60" fill="#111"/>
<rect x="441.50" y="355.50" width="2.80" height="1.40" fill="#111"/>
<rect x="441.50" y="366.10" width="2.80" height="1.40" fill="#111"/>
<text transform="translate(442.80,336.60) scale(0.7552,1.1200)" font-family='"Liberation Sans", sans-serif' font-weight="bold" fill="#000" stroke="#000" stroke-width="0.12"><tspan x="-14.55 -9.45 -4.35" y="0.75" font-size="8.25">***</tspan><tspan x="0.33 5.56 10.79" y="0.00" font-size="7.5">###</tspan></text>
<text transform="translate(442.80,347.90) scale(0.8770,1.1200)" font-family='"Liberation Sans", sans-serif' font-weight="bold" fill="#000" stroke="#000" stroke-width="0.12"><tspan x="-8.47 -2.71 3.05" y="0.00" font-size="7.5">&amp;&amp;&amp;</tspan></text>
<text transform="translate(442.85,504.20) scale(0.9364,1.1364)" font-family='"Liberation Sans", sans-serif' font-size="6.6" font-weight="bold" fill="#000" text-anchor="middle" stroke="#000" stroke-width="0.1">Abees 3%</text>
<rect x="484.20" y="321.00" width="1.30" height="10.60" fill="#111"/>
<rect x="483.45" y="320.30" width="2.80" height="1.40" fill="#111"/>
<rect x="483.45" y="330.90" width="2.80" height="1.40" fill="#111"/>
<text transform="translate(484.65,292.80) scale(0.7552,1.1200)" font-family='"Liberation Sans", sans-serif' font-weight="bold" fill="#000" stroke="#000" stroke-width="0.12"><tspan x="-7.32 -2.09 3.14" y="0.00" font-size="7.5">###</tspan></text>
<text transform="translate(484.85,304.30) scale(0.9829,1.1200)" font-family='"Liberation Sans", sans-serif' font-weight="bold" fill="#000" stroke="#000" stroke-width="0.12"><tspan x="-6.56 -2.09 2.39" y="0.00" font-size="7.5">$$$</tspan></text>
<text transform="translate(484.70,315.40) scale(0.9072,1.1200)" font-family='"Liberation Sans", sans-serif' font-weight="bold" fill="#000" stroke="#000" stroke-width="0.12"><tspan x="-10.33 -3.33 3.67" y="0.00" font-size="7.5">%%%</tspan></text>
<text transform="translate(485.00,504.20) scale(0.9364,1.1364)" font-family='"Liberation Sans", sans-serif' font-size="6.6" font-weight="bold" fill="#000" text-anchor="middle" stroke="#000" stroke-width="0.1">Abees 5%</text>
<text transform="translate(190.70,380.00) rotate(-90)" font-family='"Liberation Sans", sans-serif' font-size="7.1" font-weight="bold" fill="#000" text-anchor="middle" textLength="59.30" lengthAdjust="spacingAndGlyphs">SOD (U/g tissue)</text>
<rect x="0.00" y="0.90" width="343.00" height="2.60" fill="#000"/>
<rect x="0.00" y="0.90" width="2.70" height="256.10" fill="#000"/>
<rect x="340.10" y="0.90" width="2.90" height="256.10" fill="#000"/>
<rect x="0.00" y="254.10" width="343.00" height="2.90" fill="#000"/>
<rect x="343.00" y="0.00" width="342.00" height="2.60" fill="#000"/>
<rect x="343.00" y="0.00" width="2.50" height="256.20" fill="#000"/>
<rect x="682.40" y="0.00" width="2.60" height="256.20" fill="#000"/>
<rect x="343.00" y="253.20" width="342.00" height="3.00" fill="#000"/>
<rect x="343.00" y="256.20" width="172.60" height="1.80" fill="#a3a3a3"/>
<rect x="172.80" y="257.00" width="170.20" height="1.00" fill="#303030"/>
<rect x="172.80" y="258.00" width="342.80" height="2.30" fill="#000"/>
<rect x="172.80" y="258.00" width="3.10" height="256.00" fill="#000"/>
<rect x="512.50" y="258.00" width="3.10" height="256.00" fill="#000"/>
<rect x="172.80" y="510.80" width="342.80" height="3.20" fill="#000"/>
<rect x="1.90" y="2.60" width="29.25" height="2.20" fill="#000"/>
<rect x="1.90" y="35.80" width="29.25" height="2.60" fill="#000"/>
<rect x="1.90" y="2.60" width="2.20" height="35.80" fill="#000"/>
<rect x="28.90" y="2.60" width="2.25" height="35.80" fill="#000"/>
<text x="13.70" y="32.10" font-family='"Liberation Sans", sans-serif' font-size="23.4" font-weight="bold" fill="#000" text-anchor="start">a</text>
<rect x="344.40" y="1.60" width="29.35" height="2.30" fill="#000"/>
<rect x="344.40" y="35.00" width="29.35" height="2.80" fill="#000"/>
<rect x="344.40" y="1.60" width="2.30" height="36.20" fill="#000"/>
<rect x="371.30" y="1.60" width="2.45" height="36.20" fill="#000"/>
<text x="356.50" y="31.50" font-family='"Liberation Sans", sans-serif' font-size="23.2" font-weight="bold" fill="#000" text-anchor="start">b</text>
<rect x="172.80" y="259.50" width="31.10" height="2.50" fill="#000"/>
<rect x="172.80" y="291.80" width="31.10" height="3.00" fill="#000"/>
<rect x="172.80" y="259.50" width="3.80" height="35.30" fill="#000"/>
<rect x="201.10" y="259.50" width="2.80" height="35.30" fill="#000"/>
<text x="186.40" y="288.90" font-family='"Liberation Sans", sans-serif' font-size="23.8" font-weight="bold" fill="#000" text-anchor="start">c</text>
</svg></body></html>
